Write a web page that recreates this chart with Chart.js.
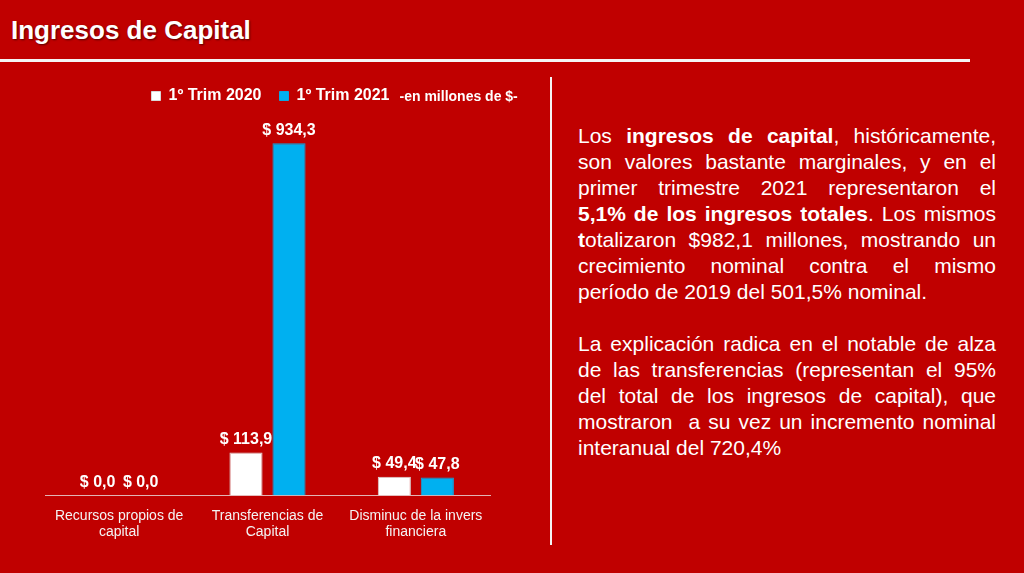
<!DOCTYPE html>
<html>
<head>
<meta charset="utf-8">
<script src="https://cdn.jsdelivr.net/npm/chart.js@4.4.0/dist/chart.umd.min.js"></script>
<style>
  html, body { margin: 0; padding: 0; }
  body {
    width: 1024px; height: 573px; overflow: hidden; position: relative;
    background: #C00000; font-family: "Liberation Sans", Arial, sans-serif; color: #fff;
  }
  #title {
    position: absolute; left: 11px; top: 15px; font-size: 26px; font-weight: bold;
    text-shadow: 1px 1px 2px rgba(60,0,0,0.8);
  }
  #hline { position: absolute; left: 0; top: 59px; width: 970px; height: 3px; background: #f4f4f4; }
  #vline { position: absolute; left: 550px; top: 77px; width: 2px; height: 468px; background: #f4f4f4; }
  #wrap { position: absolute; left: 40px; top: 65px; width: 500px; height: 492px; }
  #text {
    position: absolute; left: 578px; top: 123px; width: 418px;
    font-size: 21px; line-height: 26px; color: #fff;
  }
  #text p { margin: 0 0 26px 0; }
  #text span { display: block; white-space: nowrap; }
  #text span.j { text-align: justify; text-align-last: justify; white-space: normal; }
</style>
</head>
<body>
<div id="title">Ingresos de Capital</div>
<div id="hline"></div>
<div id="vline"></div>
<div id="wrap"><canvas id="chart" width="500" height="492"></canvas></div>
<div id="text">
  <p>
    <span class="j">Los <b>ingresos de capital</b>, históricamente,</span>
    <span class="j">son valores bastante marginales, y en el</span>
    <span class="j">primer trimestre 2021 representaron el</span>
    <span class="j"><b>5,1% de los ingresos totales</b>. Los mismos</span>
    <span class="j"><b>t</b>otalizaron $982,1 millones, mostrando un</span>
    <span class="j">crecimiento nominal contra el mismo</span>
    <span>período de 2019 del 501,5% nominal.</span>
  </p>
  <p>
    <span class="j">La explicación radica en el notable de alza</span>
    <span class="j">de las transferencias (representan el 95%</span>
    <span class="j">del total de los ingresos de capital), que</span>
    <span class="j">mostraron&nbsp; a su vez un incremento nominal</span>
    <span>interanual del 720,4%</span>
  </p>
</div>
<script>
const categories = [
  ["Recursos propios de", "capital"],
  ["Transferencias de", "Capital"],
  ["Disminuc de la invers", "financiera"]
]
const trim2020 = [0.0, 113.9, 49.4]
const trim2021 = [0.0, 934.3, 47.8]
const seriesNames = ["1º Trim 2020", "1º Trim 2021"]
const unitNote = "-en millones de $-"

// value labels above each bar
const barLabels = {
  id: 'barLabels',
  afterDatasetsDraw(chart) {
    let ctx = chart.ctx
    ctx.save()
    ctx.font = 'bold 16px "Liberation Sans", Arial, sans-serif'
    ctx.fillStyle = '#ffffff'
    ctx.textAlign = 'center'
    ctx.textBaseline = 'middle'
    chart.data.datasets.forEach((ds, i) => {
      chart.getDatasetMeta(i).data.forEach((bar, j) => {
        let txt = '$ ' + ds.data[j].toFixed(1).replace('.', ',')
        ctx.fillText(txt, bar.x, bar.y - 13)
      })
    })
    ctx.restore()
  }
}

// nudge the legend and write the unit note after it
const legendNote = {
  id: 'legendNote',
  afterLayout(chart) {
    chart.legend.left += 3
    chart.legend.right += 3
  },
  afterDraw(chart) {
    let boxes = chart.legend.legendHitBoxes
    if (!boxes || !boxes.length) return
    let last = boxes[boxes.length - 1]
    let ctx = chart.ctx
    ctx.save()
    ctx.font = 'bold 14px "Liberation Sans", Arial, sans-serif'
    ctx.fillStyle = '#ffffff'
    ctx.textBaseline = 'middle'
    ctx.fillText(unitNote, last.left + last.width + 10, last.top + last.height / 2 + 1)
    ctx.restore()
  }
}

let ctx = document.getElementById('chart').getContext('2d')
let myChart = new Chart(ctx, {
  type: 'bar',
  data: {
    labels: categories,
    datasets: [{
      label: seriesNames[0],
      data: trim2020,
      backgroundColor: '#ffffff',
      borderColor: '#d8d8d8',
      borderWidth: 1,
      categoryPercentage: 0.58,
      barPercentage: 0.77
    }, {
      label: seriesNames[1],
      data: trim2021,
      backgroundColor: '#00B0F0',
      borderColor: '#0aa6e0',
      borderWidth: 1,
      categoryPercentage: 0.58,
      barPercentage: 0.77
    }]
  },
  options: {
    responsive: false,
    animation: false,
    layout: { padding: { top: 5, left: 5, right: 50, bottom: 4 } },
    plugins: {
      legend: {
        display: true,
        position: 'top',
        labels: {
          color: '#ffffff',
          boxWidth: 9,
          boxHeight: 9,
          padding: 18,
          font: { family: '"Liberation Sans", Arial, sans-serif', size: 16, weight: 'bold' }
        }
      },
      tooltip: { enabled: false }
    },
    scales: {
      x: {
        grid: { display: false, drawTicks: false },
        border: { display: true, color: 'rgba(230,200,200,0.9)', width: 1 },
        ticks: {
          color: '#f4f4f4',
          padding: 12,
          maxRotation: 0,
          font: { family: '"Liberation Sans", Arial, sans-serif', size: 14 }
        }
      },
      y: {
        display: false,
        min: 0,
        max: 1012
      }
    }
  },
  plugins: [barLabels, legendNote]
})
</script>
</body>
</html>
